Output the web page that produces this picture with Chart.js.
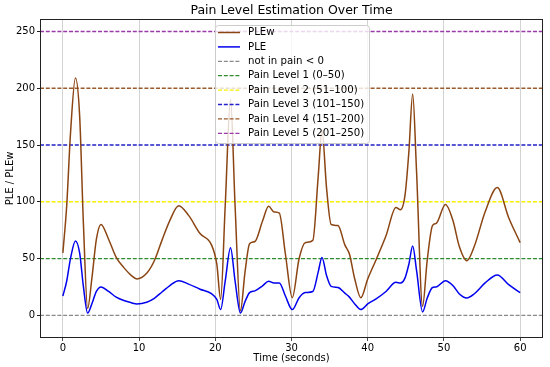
<!DOCTYPE html>
<html>
<head>
<meta charset="utf-8">
<script src="https://cdn.jsdelivr.net/npm/chart.js@4.4.1/dist/chart.umd.min.js"></script>
<style>
  html, body { margin: 0; padding: 0; background: #fff; }
  #wrap { width: 550px; height: 367px; position: relative; }
</style>
</head>
<body>
<div id="wrap"><canvas id="painChart" width="550" height="367"></canvas></div>
<script>
// time (s) of each reading
const times = [
  0, 0.5, 1.0, 1.65, 2.2, 2.7, 3.25, 3.8, 4.4, 5.0,
  6.0, 7.0, 8.0, 9.0, 9.7, 11, 12, 13, 14, 15.2,
  16.5, 18, 19.5, 20.2, 20.7, 21.3, 22.0, 22.6, 23.3, 23.9,
  24.5, 25.2, 26.2, 27.0, 27.7, 28.4, 29.2, 30.1, 31.0, 31.8,
  32.8, 33.5, 34.0, 34.6, 35.2, 36.1, 37.0, 37.6, 38.3, 39.1,
  40.0, 41.1, 42.4, 43.7, 44.3, 44.9, 45.4, 45.9, 46.4, 47.2,
  47.8, 48.5, 49.0, 50.2, 51.2, 52.0, 53.0, 54.0, 55.4, 57.0,
  58.5, 60.0
];

// PLE (blue)
const pleValues = [
  17, 30, 50, 65.5, 55, 25, 2, 10, 21, 25,
  21, 16, 13, 11, 10, 11.5, 15, 20.5, 26, 30.5,
  27.5, 23, 19, 14, 5, 30, 59.5, 30, 2, 12,
  20, 21.5, 26, 30, 28.5, 28.5, 17, 5, 15.5, 20,
  21, 38, 51, 35, 25.5, 24.5, 19.5, 16, 10, 5,
  10, 14.5, 21, 29, 28.5, 33, 45, 61, 40, 3,
  15, 24.5, 25, 30.5, 26, 19, 15.2, 19, 28.5, 35.5,
  27, 20
];

// PLEw (brown)
const plewValues = [
  55, 96, 160, 209, 176, 80, 6, 32, 67, 80,
  67, 51, 42, 35, 32, 37, 48, 66, 83, 96.5,
  88, 72, 62, 45, 14, 96, 190, 96, 4, 38,
  63, 65, 83, 96, 91, 90, 54, 15.5, 50, 64,
  66, 122, 163, 112, 80, 79, 62, 54, 32, 15.5,
  32, 49, 70, 95, 93, 106, 144, 195, 128, 8,
  48, 79, 81, 97.5, 83, 61, 48, 61, 91, 112.5,
  86, 64
];

const levelValues = [0, 50, 100, 150, 200, 250];
const levelLabels = [
  'not in pain < 0',
  'Pain Level 1 (0–50)',
  'Pain Level 2 (51–100)',
  'Pain Level 3 (101–150)',
  'Pain Level 4 (151–200)',
  'Pain Level 5 (201–250)'
];
const levelColors = ['#8a8a8a', '#2e8b2e', '#f5f000', '#2222c8', '#9a5a2a', '#9a3aa8'];

const xTicks = [0, 10, 20, 30, 40, 50, 60];
const yTicks = [0, 50, 100, 150, 200, 250];
const xRange = [-3, 63];
const yRange = [-20, 261];

const FONT = 'DejaVu Sans, sans-serif';
const TITLE = 'Pain Level Estimation Over Time';

function toPoints(xs, ys) {
  return xs.map((x, i) => ({ x: x, y: ys[i] }));
}

const datasets = [
  {
    label: 'PLEw',
    data: toPoints(times, plewValues),
    borderColor: '#8b4513',
    borderWidth: 1.5,
    cubicInterpolationMode: 'monotone',
    pointRadius: 0,
    order: 1
  },
  {
    label: 'PLE',
    data: toPoints(times, pleValues),
    borderColor: '#0000ee',
    borderWidth: 1.5,
    cubicInterpolationMode: 'monotone',
    pointRadius: 0,
    order: 0
  }
];

levelValues.forEach((v, i) => {
  datasets.push({
    label: levelLabels[i],
    data: [{ x: xRange[0], y: v }, { x: xRange[1], y: v }],
    borderColor: levelColors[i],
    borderWidth: 1.3,
    borderDash: [4, 1.8],
    pointRadius: 0,
    order: 2
  });
});

// frame round the plot area + title centred over it
const framePlugin = {
  id: 'frame',
  afterDraw(chart) {
    const a = chart.chartArea;
    const ctx = chart.ctx;
    ctx.save();
    ctx.strokeStyle = '#222';
    ctx.lineWidth = 1;
    ctx.strokeRect(Math.round(a.left) + 0.5, Math.round(a.top) + 0.5,
      Math.round(a.right - a.left) - 1, Math.round(a.bottom - a.top) - 1);

    ctx.fillStyle = '#000';
    ctx.font = '12.5px ' + FONT;
    ctx.textAlign = 'center';
    ctx.textBaseline = 'middle';
    ctx.fillText(TITLE, (a.left + a.right) / 2, 11);
    ctx.restore();
  }
};

// legend drawn inside the plot, like matplotlib's
const legendPlugin = {
  id: 'innerLegend',
  afterDraw(chart) {
    const ctx = chart.ctx;
    const bx = 215, by = 25, bw = 154, bh = 118;
    ctx.save();
    ctx.beginPath();
    ctx.roundRect(bx + 0.5, by + 0.5, bw, bh, 3);
    ctx.fillStyle = 'rgba(255,255,255,0.8)';
    ctx.fill();
    ctx.strokeStyle = '#cccccc';
    ctx.lineWidth = 1;
    ctx.stroke();

    ctx.font = '10.2px ' + FONT;
    ctx.textBaseline = 'middle';
    chart.data.datasets.forEach((ds, i) => {
      const y = 32.5 + i * 14.4;
      ctx.beginPath();
      ctx.setLineDash(ds.borderDash || []);
      ctx.strokeStyle = ds.borderColor;
      ctx.lineWidth = ds.borderWidth;
      ctx.moveTo(218, y);
      ctx.lineTo(240, y);
      ctx.stroke();
      ctx.setLineDash([]);
      ctx.fillStyle = '#000';
      ctx.fillText(ds.label, 248, y);
    });
    ctx.restore();
  }
};

new Chart(document.getElementById('painChart'), {
  type: 'line',
  data: { datasets: datasets },
  options: {
    responsive: false,
    animation: false,
    devicePixelRatio: 1,
    layout: { padding: { left: 0, right: 7, top: 19, bottom: 0 } },
    plugins: {
      legend: { display: false },
      tooltip: { enabled: false },
      title: { display: false }
    },
    scales: {
      x: {
        type: 'linear',
        min: xRange[0],
        max: xRange[1],
        afterBuildTicks(scale) {
          scale.ticks = xTicks.map(v => ({ value: v }));
        },
        afterFit(scale) { scale.height = 29; },
        ticks: {
          color: '#000',
          font: { family: FONT, size: 10 },
          padding: 1,
          maxRotation: 0
        },
        grid: {
          color: 'rgba(176,176,176,0.7)',
          lineWidth: 0.8,
          tickColor: '#222',
          tickLength: 3
        },
        border: { display: false },
        title: {
          display: true,
          text: 'Time (seconds)',
          color: '#000',
          font: { family: FONT, size: 10 },
          padding: { top: 0, bottom: 3 }
        }
      },
      y: {
        type: 'linear',
        min: yRange[0],
        max: yRange[1],
        afterBuildTicks(scale) {
          scale.ticks = yTicks.map(v => ({ value: v }));
        },
        afterFit(scale) { scale.width = 40; },
        ticks: {
          color: '#000',
          font: { family: FONT, size: 10 },
          padding: 2
        },
        grid: {
          drawOnChartArea: false,
          tickColor: '#222',
          tickLength: 3
        },
        border: { display: false },
        title: {
          display: true,
          text: 'PLE / PLEw',
          color: '#000',
          font: { family: FONT, size: 10 },
          padding: { top: 4, bottom: 0 }
        }
      }
    }
  },
  plugins: [framePlugin, legendPlugin]
});
</script>
</body>
</html>
